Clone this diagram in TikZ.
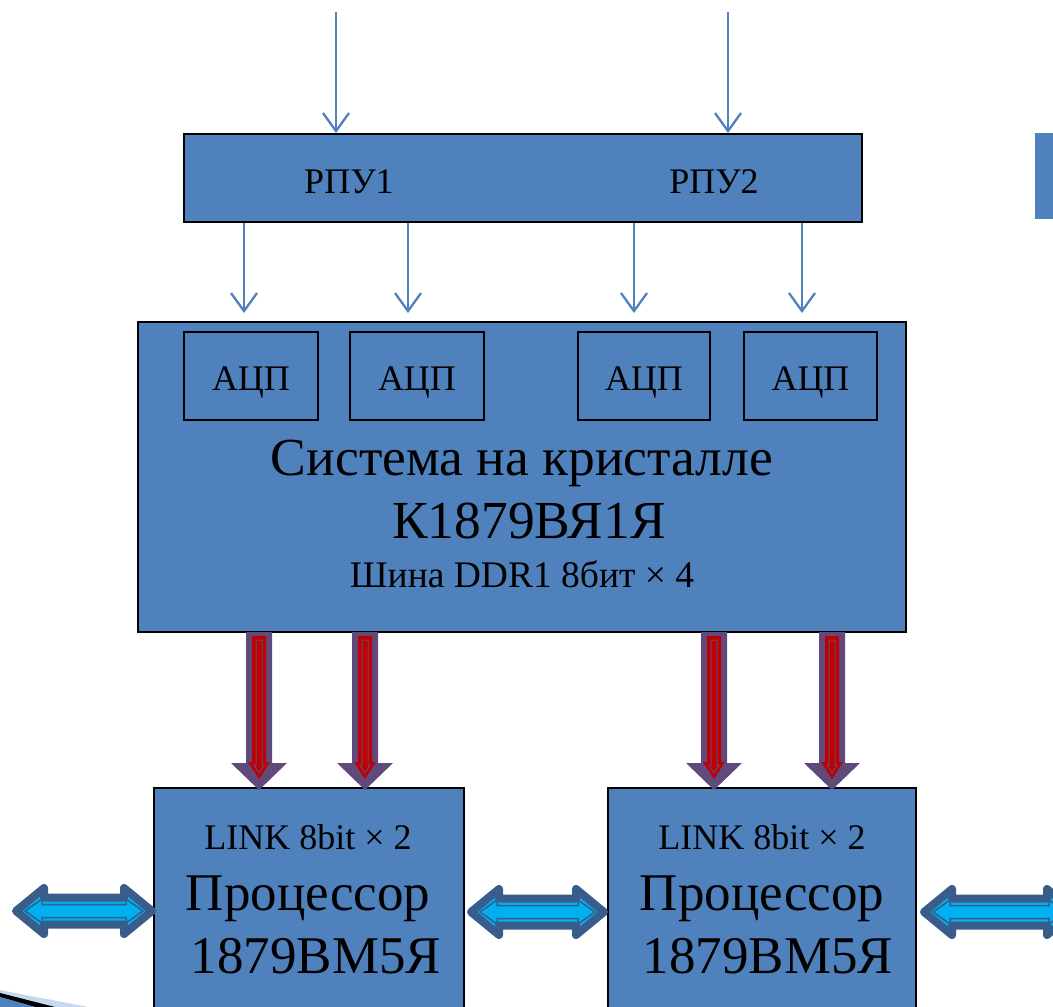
\documentclass[tikz,border=0pt]{standalone}
\usepackage{fontspec}
\setmainfont{Liberation Serif}
\usetikzlibrary{arrows.meta}
\definecolor{boxblue}{HTML}{4F81BD}
\definecolor{arrpurple}{HTML}{604A7B}
\definecolor{arrred}{HTML}{C00000}
\definecolor{dkblue}{HTML}{385D8A}
\definecolor{cyanfill}{HTML}{00B0F0}
\definecolor{paleblue}{HTML}{C6D9F1}
\newcommand\fatarr[1]{%
  \fill[arrpurple] (#1-13,632) -- (#1+13,632) -- (#1+13,763) -- (#1+28,763) -- (#1,790) -- (#1-28,763) -- (#1-13,763) -- cycle;
  \fill[arrred] (#1-7,636) -- (#1+7,636) -- (#1+7,762) -- (#1+11,762) -- (#1,779) -- (#1-11,762) -- (#1-7,762) -- cycle;
  \draw[arrpurple,line width=1pt,line join=miter] (#1-3,640) -- (#1+3,640) -- (#1+3,765) -- (#1+5,765) -- (#1,773) -- (#1-5,765) -- (#1-3,765) -- cycle;
}
\newcommand\dblarr[3]{%
  \draw[dkblue,line width=8pt,line join=round,fill=cyanfill] (#1,#3) -- (#1+28,#3-23) -- (#1+28,#3-13.5) -- (#2-28,#3-13.5) -- (#2-28,#3-23) -- (#2,#3) -- (#2-28,#3+23) -- (#2-28,#3+13.5) -- (#1+28,#3+13.5) -- (#1+28,#3+23) -- cycle;
  \draw[dkblue,line width=1.5pt,line join=miter] (#1+9,#3) -- (#1+26,#3-12) -- (#1+26,#3-6.5) -- (#2-26,#3-6.5) -- (#2-26,#3-12) -- (#2-9,#3) -- (#2-26,#3+12) -- (#2-26,#3+6.5) -- (#1+26,#3+6.5) -- (#1+26,#3+12) -- cycle;
}
\begin{document}
\begin{tikzpicture}[x=1pt,y=-1pt,
  blk/.style={draw=black, line width=2pt, fill=boxblue, inner sep=0pt},
  sig/.style={draw=boxblue, line width=2.3pt, -{Straight Barb[length=18pt,width=26pt,line width=2.3pt]}},
  fs/.style={font=\fontsize{#1}{#1}\selectfont, inner sep=0pt, anchor=base},
]
\useasboundingbox (0,0) rectangle (1053,1007);
\clip (0,0) rectangle (1053,1007);

% boxes
\node[blk, minimum width=678pt, minimum height=88pt] (rpu) at (523,178) {};
\node[blk, minimum width=768pt, minimum height=310pt] (soc) at (522,477) {};
\node[blk, minimum width=134pt, minimum height=88pt] (adc1) at (251,376) {};
\node[blk, minimum width=134pt, minimum height=88pt] (adc2) at (417,376) {};
\node[blk, minimum width=132pt, minimum height=88pt] (adc3) at (644,376) {};
\node[blk, minimum width=133pt, minimum height=88pt] (adc4) at (810.5,376) {};
\node[blk, minimum width=310pt, minimum height=242pt] (proc1) at (309,909) {};
\node[blk, minimum width=308pt, minimum height=242pt] (proc2) at (762,909) {};

% texts
\node[fs=36] (t1) at (349,193) {РПУ1};
\node[fs=36] (t2) at (714,193) {РПУ2};
\node[fs=36] at (adc1 |- 0,390) {АЦП};
\node[fs=36] at (adc2 |- 0,390) {АЦП};
\node[fs=36] at (adc3 |- 0,390) {АЦП};
\node[fs=36] at (adc4 |- 0,390) {АЦП};
\node[fs=53.5] at (522,475) {Система на кристалле};
\node[fs=53.5] at (529,538) {К1879ВЯ1Я};
\node[fs=37.5] at (522,587) {Шина DDR1 8бит \texttimes\ 4};
\node[fs=36] at (308,849) {LINK 8bit \texttimes\ 2};
\node[fs=53] at (308,910) {Процессор};
\node[fs=53] at (316,973) {1879ВМ5Я};
\node[fs=36] at (762,849) {LINK 8bit \texttimes\ 2};
\node[fs=53] at (762,910) {Процессор};
\node[fs=53] at (768,973) {1879ВМ5Я};

% thin signal arrows
\coordinate (in1) at (336,12);
\coordinate (in2) at (728,12);
\draw[sig] (in1) -- (in1 |- rpu.north);
\draw[sig] (in2) -- (in2 |- rpu.north);
\foreach \xx in {244,408,634,802}{
  \draw[sig, shorten >=8pt] (\xx,0 |- rpu.south) -- (\xx,0 |- soc.north);
}

% fat bus arrows
\fatarr{259}
\fatarr{365}
\fatarr{714}
\fatarr{832}

% link double arrows
\dblarr{16}{152}{911}
\dblarr{471}{604}{912}
\dblarr{924}{1075}{912}

% side decorations
\fill[boxblue] (1035,133) rectangle (1053,219);
\fill[paleblue] (0,990) -- (88,1007) -- (0,1007) -- cycle;
\fill[black] (0,993) -- (55,1007) -- (35,1007) -- (0,997) -- cycle;
\fill[boxblue] (0,997) -- (35,1007) -- (0,1007) -- cycle;
\end{tikzpicture}
\end{document}
